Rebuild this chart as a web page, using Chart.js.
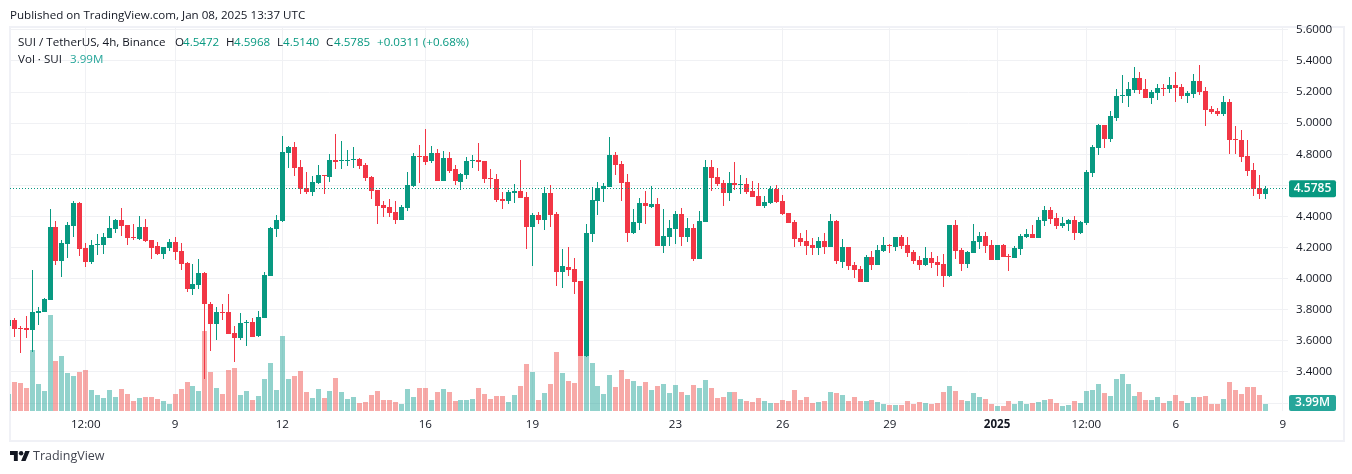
<!DOCTYPE html>
<html>
<head>
<meta charset="utf-8">
<script src="https://cdn.jsdelivr.net/npm/chart.js@4"></script>
<style>
html, body { margin: 0; padding: 0; background: #fff; }
body { width: 1352px; height: 474px; position: relative; overflow: hidden; font-family: "Open Sans", sans-serif; font-size: 11.6px; color: #131722; }
canvas { position: absolute; left: 0; top: 0; }
#frame { position: absolute; left: 9px; top: 26px; width: 1332px; height: 412px; border: 2px solid #f0f1f6; }
.t { position: absolute; white-space: nowrap; line-height: 16px; }
.v { color: #089981; }
.vv { color: #26a69a; }
</style>
</head>
<body>
<div id="frame"></div>
<canvas id="suiChart" width="1352" height="474"></canvas>
<div class="t" style="left:10px;top:7px">Published on TradingView.com, Jan 08, 2025 13:37 UTC</div>
<div class="t" style="left:18px;top:34px">SUI / TetherUS, 4h, Binance</div>
<div class="t" style="left:175px;top:34px">O</div><div class="t v" style="left:183px;top:34px">4.5472</div>
<div class="t" style="left:226px;top:34px">H</div><div class="t v" style="left:234px;top:34px">4.5968</div>
<div class="t" style="left:277px;top:34px">L</div><div class="t v" style="left:283px;top:34px">4.5140</div>
<div class="t" style="left:326px;top:34px">C</div><div class="t v" style="left:334px;top:34px">4.5785</div>
<div class="t v" style="left:377px;top:34px">+0.0311 (+0.68%)</div>
<div class="t" style="left:18px;top:51px">Vol · SUI</div><div class="t vv" style="left:70px;top:51px">3.99M</div>
<svg style="position:absolute;left:10px;top:451px" width="20" height="10" viewBox="0 4 36 18"><path fill="#131722" d="M14 22H7V11H0V4h14v18zM28 22h-8l7.5-18h8L28 22z"/><circle fill="#131722" cx="20" cy="8" r="4"/></svg>
<div class="t" style="left:33px;top:448px;font-size:12.5px;color:#434651">TradingView</div>

<script>
var opens = [3.696,
3.732,3.685,3.683,3.672,3.779,3.786,3.863,4.332,4.114,4.223,
4.339,4.489,4.197,4.107,4.217,4.217,4.262,4.320,4.377,4.345,
4.266,4.255,4.332,4.249,4.210,4.159,4.197,4.236,4.178,4.101,
3.934,3.959,4.037,3.837,3.709,3.786,3.786,3.651,3.619,3.715,
3.721,3.631,3.747,4.017,4.320,4.371,4.808,4.847,4.718,4.583,
4.557,4.615,4.667,4.654,4.763,4.757,4.757,4.763,4.770,4.731,
4.654,4.570,4.474,4.461,4.429,4.377,4.454,4.596,4.789,4.789,
4.757,4.808,4.628,4.776,4.706,4.622,4.667,4.759,4.764,4.757,
4.648,4.642,4.513,4.500,4.552,4.564,4.526,4.333,4.410,4.378,
4.552,4.417,4.044,4.076,4.063,3.986,3.503,4.288,4.500,4.577,
4.590,4.796,4.738,4.622,4.294,4.359,4.487,4.462,4.481,4.211,
4.269,4.320,4.416,4.268,4.326,4.127,4.365,4.718,4.654,4.615,
4.551,4.615,4.605,4.609,4.564,4.532,4.468,4.487,4.577,4.500,
4.423,4.365,4.262,4.242,4.217,4.197,4.242,4.204,4.371,4.107,
4.204,4.088,4.062,3.979,4.140,4.088,4.178,4.217,4.204,4.268,
4.217,4.172,4.120,4.088,4.133,4.107,4.095,4.017,4.345,4.185,
4.095,4.165,4.236,4.275,4.217,4.120,4.217,4.146,4.133,4.191,
4.268,4.288,4.262,4.371,4.442,4.391,4.339,4.352,4.378,4.294,
4.358,4.680,4.841,4.989,4.899,5.034,5.177,5.175,5.214,5.291,
5.220,5.162,5.194,5.227,5.220,5.246,5.233,5.175,5.188,5.272,
5.207,5.092,5.079,5.059,5.137,4.899,4.892,4.789,4.699,4.584,4.5472];

var highs = [3.75,
3.747,3.696,3.760,4.056,3.820,3.875,4.448,4.371,4.249,4.365,
4.497,4.495,4.229,4.249,4.287,4.294,4.403,4.384,4.455,4.345,
4.352,4.403,4.384,4.249,4.236,4.204,4.255,4.268,4.229,4.107,
4.094,4.127,4.043,3.850,3.818,3.837,3.902,3.696,3.779,3.734,
3.747,3.792,4.043,4.332,4.410,4.917,4.853,4.879,4.763,4.686,
4.660,4.731,4.667,4.802,4.930,4.885,4.827,4.847,4.776,4.744,
4.660,4.570,4.499,4.512,4.499,4.474,4.686,4.808,4.860,4.962,
4.853,4.834,4.821,4.815,4.732,4.680,4.783,4.796,4.873,4.757,
4.706,4.674,4.558,4.571,4.609,4.764,4.558,4.423,4.429,4.590,
4.603,4.429,4.191,4.204,4.134,3.986,4.352,4.590,4.622,4.616,
4.912,4.815,4.757,4.674,4.449,4.519,4.564,4.597,4.519,4.449,
4.378,4.436,4.455,4.390,4.352,4.435,4.763,4.763,4.712,4.635,
4.686,4.751,4.667,4.648,4.628,4.615,4.532,4.596,4.603,4.538,
4.423,4.378,4.294,4.313,4.262,4.268,4.294,4.416,4.378,4.255,
4.204,4.107,4.082,4.152,4.178,4.217,4.268,4.223,4.268,4.281,
4.268,4.185,4.146,4.204,4.172,4.146,4.159,4.345,4.378,4.197,
4.178,4.352,4.300,4.300,4.249,4.217,4.223,4.159,4.210,4.288,
4.320,4.346,4.397,4.468,4.461,4.423,4.397,4.384,4.403,4.371,
4.699,4.860,4.995,4.989,5.079,5.220,5.310,5.265,5.362,5.330,
5.285,5.214,5.252,5.252,5.297,5.330,5.252,5.207,5.317,5.375,
5.233,5.111,5.098,5.175,5.156,4.982,4.957,4.892,4.744,4.667,4.5968];

var lows = [3.68,
3.627,3.524,3.619,3.531,3.702,3.786,3.860,4.088,4.011,4.133,
4.268,4.146,4.075,4.094,4.152,4.159,4.262,4.294,4.274,4.217,
4.249,4.249,4.236,4.127,4.152,4.127,4.178,4.120,4.056,3.914,
3.895,3.934,3.355,3.535,3.606,3.734,3.644,3.464,3.606,3.567,
3.625,3.625,3.747,4.017,4.268,4.364,4.712,4.660,4.544,4.544,
4.532,4.609,4.544,4.622,4.705,4.705,4.724,4.712,4.705,4.628,
4.512,4.352,4.397,4.397,4.352,4.377,4.435,4.589,4.615,4.731,
4.744,4.628,4.628,4.679,4.603,4.571,4.642,4.712,4.693,4.616,
4.584,4.494,4.449,4.481,4.487,4.519,4.191,4.082,4.352,4.314,
4.333,3.953,3.941,4.018,3.902,3.503,3.497,4.236,4.410,4.494,
4.590,4.667,4.500,4.236,4.288,4.314,4.352,4.455,4.211,4.166,
4.211,4.224,4.210,4.236,4.114,4.127,4.365,4.564,4.596,4.468,
4.500,4.570,4.545,4.545,4.525,4.468,4.455,4.480,4.487,4.410,
4.358,4.204,4.210,4.152,4.152,4.152,4.159,4.204,4.095,4.069,
4.056,4.005,3.979,3.979,4.056,4.088,4.172,4.165,4.178,4.191,
4.140,4.095,4.056,4.082,4.069,4.017,3.947,4.011,4.127,4.050,
4.069,4.165,4.191,4.165,4.120,4.120,4.140,4.050,4.133,4.153,
4.262,4.262,4.262,4.339,4.352,4.320,4.326,4.307,4.249,4.288,
4.346,4.654,4.796,4.841,4.879,5.014,5.130,5.104,5.194,5.188,
5.162,5.124,5.149,5.175,5.194,5.137,5.156,5.130,5.162,5.182,
4.982,5.059,5.047,5.047,4.802,4.802,4.751,4.661,4.532,4.513,4.5140];

var closes = [3.734,
3.679,3.679,3.672,3.786,3.792,3.869,4.332,4.114,4.229,4.345,
4.489,4.191,4.107,4.217,4.223,4.268,4.326,4.377,4.339,4.262,
4.259,4.332,4.242,4.197,4.159,4.204,4.236,4.172,4.094,3.934,
3.966,4.037,3.837,3.709,3.786,3.779,3.644,3.619,3.715,3.721,
3.625,3.754,4.024,4.326,4.377,4.815,4.847,4.712,4.577,4.557,
4.622,4.667,4.660,4.763,4.750,4.763,4.763,4.770,4.724,4.647,
4.564,4.467,4.454,4.422,4.377,4.461,4.602,4.789,4.785,4.750,
4.808,4.628,4.776,4.692,4.629,4.674,4.757,4.764,4.751,4.642,
4.644,4.507,4.500,4.558,4.564,4.519,4.333,4.410,4.378,4.552,
4.410,4.044,4.082,4.056,3.979,3.503,4.294,4.507,4.584,4.597,
4.796,4.732,4.616,4.294,4.365,4.487,4.468,4.481,4.211,4.275,
4.326,4.417,4.268,4.326,4.127,4.371,4.718,4.648,4.609,4.551,
4.615,4.603,4.609,4.558,4.525,4.468,4.493,4.577,4.493,4.416,
4.358,4.255,4.236,4.210,4.197,4.242,4.204,4.371,4.114,4.204,
4.082,4.056,3.979,4.140,4.088,4.185,4.217,4.210,4.268,4.210,
4.165,4.114,4.088,4.133,4.101,4.088,4.017,4.345,4.178,4.095,
4.172,4.242,4.275,4.210,4.120,4.217,4.140,4.142,4.197,4.275,
4.288,4.262,4.378,4.442,4.384,4.339,4.358,4.378,4.294,4.365,
4.686,4.847,4.989,4.899,5.047,5.175,5.182,5.220,5.291,5.214,
5.162,5.201,5.227,5.222,5.246,5.227,5.175,5.194,5.272,5.201,
5.085,5.072,5.059,5.137,4.892,4.894,4.783,4.693,4.577,4.545,4.5785];

// volume in millions SUI
var volumes = [9.7,
16.5,16.0,13.1,34.8,15.4,11.4,54.7,28.5,31.4,21.7,
20.0,22.2,23.4,12.0,9.1,7.4,12.0,8.0,12.5,9.7,
5.7,7.4,8.0,8.0,6.8,5.7,4.0,9.7,12.5,16.5,
14.3,11.4,45.6,22.2,13.1,9.7,23.4,24.5,9.1,11.4,
6.3,8.6,18.2,27.4,12.0,42.8,18.2,20.0,22.8,10.8,
7.4,12.5,7.4,11.4,18.8,10.8,6.8,8.0,4.6,5.1,
9.1,11.4,6.3,6.3,5.1,4.0,12.5,8.0,13.1,13.1,
6.3,10.8,12.5,10.8,5.7,6.3,6.3,6.8,13.1,9.7,
6.8,8.6,8.6,5.1,9.1,14.3,26.8,22.2,6.3,10.3,
15.4,33.6,21.7,17.1,16.0,31.4,31.4,27.4,14.3,9.7,
20.5,13.7,23.4,18.2,17.1,14.3,16.5,12.0,14.3,15.4,
10.3,14.8,10.8,9.1,14.8,13.1,17.7,13.1,7.4,8.0,
10.8,10.8,6.8,5.7,5.1,7.4,5.7,4.6,4.6,6.3,
5.7,12.0,6.3,8.0,4.6,5.1,5.7,10.8,10.3,9.1,
5.7,8.0,5.7,5.7,6.3,5.1,4.0,3.4,3.4,3.4,
5.7,4.0,5.1,4.6,4.0,4.6,10.8,14.3,11.4,6.3,
5.7,10.3,8.0,6.8,4.0,2.9,2.9,5.7,4.0,5.7,
4.0,4.6,5.1,6.3,6.8,4.6,2.9,3.4,5.7,4.6,
11.4,12.0,15.4,10.3,8.6,18.2,21.1,15.4,8.6,10.8,
6.3,6.3,8.0,4.6,5.7,9.1,5.7,4.6,8.0,8.0,
8.6,4.0,4.0,6.8,16.5,12.0,9.7,13.7,13.7,9.1,3.99];

var timeTicks = [13, 28, 46, 70, 88, 112, 130, 148, 166, 181, 196, 214];
var timeLabels = ['12:00', '9', '12', '16', '19', '23', '26', '29', '2025', '12:00', '6', '9'];
var priceTicks = [3.2, 3.4, 3.6, 3.8, 4.0, 4.2, 4.4, 4.6, 4.8, 5.0, 5.2, 5.4, 5.6];
var lastPrice = 4.5785;
var lastVolume = 3.99;

var GREEN = '#089981', RED = '#F23645';
var FONT = '"Open Sans", sans-serif';

var up = closes.map(function (c, i) { return c >= opens[i]; });
var candleColors = up.map(function (u) { return u ? GREEN : RED; });
var volumeColors = up.map(function (u) { return u ? 'rgba(38,166,154,0.5)' : 'rgba(239,83,80,0.5)'; });

// snap bars to whole pixels so candles stay crisp with a gap between them
var snapPlugin = {
    id: 'snap',
    afterDatasetsUpdate: function (chart) {
        chart.data.datasets.forEach(function (ds, d) {
            chart.getDatasetMeta(d).data.forEach(function (el) {
                if (ds.type === 'line') {
                    el.y = Math.floor(el.y) + 0.5;
                    return;
                }
                el.x = Math.floor(el.x) + 0.5;
                el.y = Math.round(el.y);
                el.base = Math.round(el.base);
                if (el.y === el.base) el.base = el.y + 1;
            });
        });
    }
};

// price and volume tags on the right axis
var tagPlugin = {
    id: 'tags',
    afterDraw: function (chart) {
        var c = chart.ctx;
        function tag(y, h, color, text) {
            c.save();
            c.fillStyle = color;
            c.beginPath();
            c.roundRect(1289, y, 47, h, 2);
            c.fill();
            c.fillStyle = '#fff';
            c.font = '600 12px ' + FONT;
            c.textAlign = 'center';
            c.textBaseline = 'middle';
            c.fillText(text, 1312.5, y + h / 2);
            c.restore();
        }
        var py = chart.scales.y.getPixelForValue(lastPrice);
        tag(py - 8.5, 17, GREEN, lastPrice.toFixed(4));
        var vy = chart.scales.vol.getPixelForValue(0);
        tag(vy - 16, 16, '#26a69a', lastVolume.toFixed(2) + 'M');
    }
};

var ctx = document.getElementById('suiChart').getContext('2d');
var suiChart = new Chart(ctx, {
    data: {
        datasets: [{
            type: 'line',
            data: [{ x: 0.28, y: lastPrice }, { x: 214.85, y: lastPrice }],
            borderColor: GREEN,
            borderWidth: 1,
            borderDash: [1, 2],
            pointRadius: 0,
            order: 0
        }, {
            type: 'bar',
            data: opens.map(function (o, i) { return { x: i, y: [o, closes[i]] }; }),
            backgroundColor: candleColors,
            barThickness: 5,
            minBarLength: 1,
            inflateAmount: 0,
            grouped: false,
            order: 1
        }, {
            type: 'bar',
            data: highs.map(function (h, i) { return { x: i, y: [lows[i], h] }; }),
            backgroundColor: candleColors,
            barThickness: 1,
            inflateAmount: 0,
            grouped: false,
            order: 2
        }, {
            type: 'bar',
            yAxisID: 'vol',
            data: volumes.map(function (v, i) { return { x: i, y: v }; }),
            backgroundColor: volumeColors,
            barThickness: 5,
            inflateAmount: 0,
            grouped: false,
            order: 3
        }]
    },
    options: {
        responsive: false,
        animation: false,
        layout: { padding: { left: 10, top: 28 } },
        plugins: { legend: { display: false }, tooltip: { enabled: false } },
        scales: {
            x: {
                type: 'linear',
                offset: false,
                min: 0.28,
                max: 214.85,
                border: { display: false },
                grid: { color: '#f0f1f4', drawTicks: false, offset: false },
                afterBuildTicks: function (scale) {
                    scale.ticks = timeTicks.map(function (v) { return { value: v }; });
                },
                afterFit: function (scale) { scale.height = 63; },
                ticks: {
                    autoSkip: false,
                    maxRotation: 0,
                    padding: 7,
                    color: '#131722',
                    font: function (c) {
                        return { family: FONT, size: 11.6, weight: c.tick && c.tick.value === 166 ? 'bold' : 'normal' };
                    },
                    callback: function (v) { return timeLabels[timeTicks.indexOf(v)]; }
                }
            },
            y: {
                position: 'right',
                min: 3.149,
                max: 5.612,
                border: { display: false },
                grid: { color: '#f0f1f4', drawTicks: false },
                afterBuildTicks: function (scale) {
                    scale.ticks = priceTicks.map(function (v) { return { value: v }; });
                },
                afterFit: function (scale) { scale.width = 64; },
                ticks: {
                    padding: 8,
                    color: '#131722',
                    font: { family: FONT, size: 11.6 },
                    callback: function (v) { return v === 3.2 ? '' : v.toFixed(4); }
                }
            },
            vol: {
                display: false,
                position: 'right',
                min: 0,
                max: 218.3,
                grid: { display: false }
            }
        }
    },
    plugins: [snapPlugin, tagPlugin]
});
</script>
</body>
</html>
